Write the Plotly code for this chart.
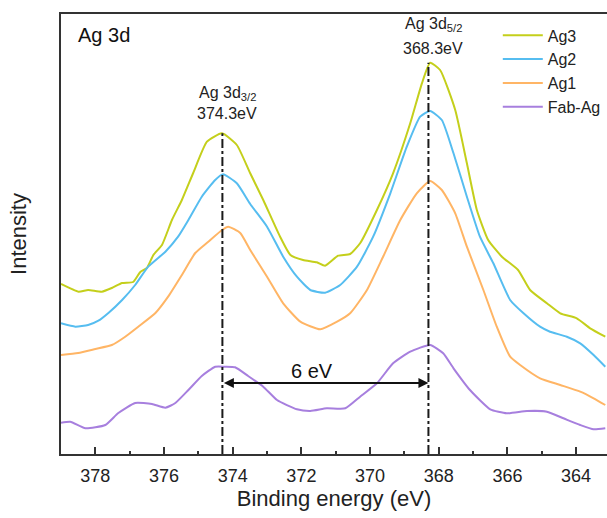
import plotly.graph_objects as go

# Ag 3d XPS spectra (binding energy in eV, intensity in arbitrary units, offset stacked)
ag3_energy = [379.0, 378.49, 378.21, 377.81, 377.52, 377.22, 376.9, 376.69, 376.5, 376.31,
              376.06, 375.77, 375.48, 375.15, 374.75, 374.31, 373.88, 373.49, 373.11, 372.62,
              372.32, 371.95, 371.55, 371.31, 370.93, 370.58, 370.29, 369.8, 369.33, 368.83,
              368.49, 368.25, 367.96, 367.52, 367.18, 366.89, 366.56, 366.16, 365.69, 365.34,
              364.85, 364.46, 363.98, 363.59, 363.15]
ag3_intensity = [170, 162.3, 164, 162.3, 166, 171, 172, 182, 186, 199,
                 209, 234, 254, 281, 312.3, 320.7, 309, 280.7, 254, 217.3,
                 199, 194, 191.7, 188.3, 198.3, 200, 210.7, 244, 280.7, 330.7,
                 370.7, 391.3, 384, 344, 290.7, 244, 214, 197.3, 184, 164,
                 150.7, 140.7, 135.7, 125.7, 117.3]

ag2_energy = [379.0, 378.58, 378.21, 377.91, 377.62, 377.22, 376.84, 376.46, 375.96, 375.59,
              375.29, 374.9, 374.51, 374.28, 373.88, 373.49, 373.0, 372.53, 372.13, 371.74,
              371.31, 370.87, 370.38, 369.91, 369.41, 368.93, 368.54, 368.25, 367.91, 367.57,
              367.18, 366.8, 366.41, 365.92, 365.53, 365.05, 364.76, 364.27, 363.88, 363.49,
              363.15]
ag2_intensity = [130.7, 127.3, 129, 133.3, 141, 154, 169, 187.3, 202.3, 217.3,
                 234, 257.3, 274, 279.7, 270.7, 250, 227.3, 197.3, 177.3, 164,
                 161.3, 169, 187.3, 217.3, 260.7, 307.3, 337.3, 343, 334, 300.7,
                 257.3, 217.3, 190.7, 154, 140.7, 127.3, 122.3, 117.3, 110.7, 99,
                 87.3]

ag1_energy = [379.0, 378.5, 378.0, 377.52, 377.13, 376.75, 376.25, 375.88, 375.48, 375.09,
              374.71, 374.31, 374.13, 373.78, 373.49, 373.0, 372.53, 372.03, 371.45, 370.96,
              370.58, 370.09, 369.62, 369.12, 368.64, 368.25, 367.91, 367.52, 367.18, 366.7,
              366.31, 365.92, 365.63, 365.05, 364.46, 363.88, 363.49, 363.15]
ag1_intensity = [99, 101, 105, 109, 117.3, 127.3, 141, 157.3, 179, 201,
                 212.3, 224, 227.3, 221, 204, 177.3, 150.7, 132.3, 124.7, 132.3,
                 140.7, 164, 197.3, 234, 260.7, 273, 264, 240.7, 207.3, 164,
                 127.3, 97.3, 89, 75.7, 69, 62.3, 55.7, 49]

fab_energy = [379.0, 378.73, 378.29, 377.71, 377.33, 376.84, 376.35, 375.96, 375.67, 375.29,
              374.9, 374.51, 374.22, 373.93, 373.55, 373.11, 372.71, 372.13, 371.74, 371.26,
              370.72, 370.29, 369.8, 369.33, 368.83, 368.25, 367.87, 367.57, 367.09, 366.5,
              366.02, 365.43, 364.85, 364.37, 363.88, 363.49, 363.15]
fab_intensity = [31.3, 32.3, 25.7, 29, 41, 51, 50, 46.3, 51, 64,
                 78, 87.3, 87.3, 86.7, 78, 67.3, 54, 44.7, 43, 45.7,
                 45.7, 57.3, 70.7, 90.7, 102.3, 109, 100.7, 85.7, 64, 44.7,
                 40.7, 43, 42.3, 35.7, 29, 24.7, 25.7]

series_names = ["Ag3", "Ag2", "Ag1", "Fab-Ag"]
series_colors = ["#c4cf1b", "#56bdf0", "#ffb565", "#a77fde"]

# Peak positions (eV) marked with dash-dot guides
peak_32 = 374.3
peak_52 = 368.3
x_ticks = [378, 376, 374, 372, 370, 368, 366, 364]

FONT = "Arial, Liberation Sans, sans-serif"
arrow_level = 71

fig = go.Figure()
for name, color, e, i in zip(series_names, series_colors,
                             [ag3_energy, ag2_energy, ag1_energy, fab_energy],
                             [ag3_intensity, ag2_intensity, ag1_intensity, fab_intensity]):
    fig.add_trace(go.Scatter(x=e, y=i, mode="lines", name=name,
                             line=dict(color=color, width=2, shape="spline", smoothing=0.5)))


def peak_height(pos):
    return max(v for e, v in zip(ag3_energy, ag3_intensity) if abs(e - pos) < 0.3)


for pos in (peak_32, peak_52):
    fig.add_shape(type="line", xref="x", yref="y", x0=pos, x1=pos, y0=0, y1=peak_height(pos),
                  line=dict(color="#1a1a1a", width=2, dash="dashdot"))

# Spin-orbit splitting arrow
fig.add_annotation(x=peak_52, y=arrow_level, ax=peak_32, ay=arrow_level,
                   xref="x", yref="y", axref="x", ayref="y", text="",
                   showarrow=True, arrowhead=2, arrowside="end+start", arrowsize=1,
                   arrowwidth=2, arrowcolor="#111111", standoff=0, startstandoff=0)
fig.add_annotation(x=371.7, y=arrow_level + 12, xref="x", yref="y", text="6 eV",
                   showarrow=False, font=dict(family=FONT, size=20, color="#111111"))

label_font = dict(family=FONT, size=16, color="#222222")
fig.add_annotation(x=peak_32, y=361, xref="x", yref="y", xshift=5,
                   text="Ag 3d<sub>3/2</sub>", showarrow=False, font=label_font)
fig.add_annotation(x=peak_32, y=341, xref="x", yref="y", xshift=5,
                   text=f"{peak_32}eV", showarrow=False, font=label_font)
fig.add_annotation(x=peak_52, y=430, xref="x", yref="y", xshift=5,
                   text="Ag 3d<sub>5/2</sub>", showarrow=False, font=label_font)
fig.add_annotation(x=peak_52, y=406, xref="x", yref="y", xshift=5,
                   text=f"{peak_52}eV", showarrow=False, font=label_font)
fig.add_annotation(x=0.027, y=0.953, xref="paper", yref="paper", xanchor="left",
                   yanchor="middle", text="Ag 3d", showarrow=False,
                   font=dict(family=FONT, size=20, color="#111111"))

fig.update_layout(
    width=607, height=518,
    margin=dict(l=61, r=0, t=14, b=64),
    paper_bgcolor="white", plot_bgcolor="white",
    font=dict(family=FONT, color="#222222"),
    showlegend=True,
    legend=dict(x=0.80, y=0.99, xanchor="left", yanchor="top",
                bgcolor="rgba(0,0,0,0)", font=dict(family=FONT, size=16, color="#222222"),
                itemwidth=40, tracegroupgap=0),
    xaxis=dict(range=[379.0, 363.1], tickvals=x_ticks, ticks="inside", ticklen=7, tickwidth=2,
               tickcolor="#333333", showline=True, linewidth=2, linecolor="#333333",
               mirror=True, showgrid=False, zeroline=False, ticklabelstandoff=4,
               tickfont=dict(family=FONT, size=18, color="#222222"),
               minor=dict(dtick=1, tick0=379, ticks="inside", ticklen=3, tickwidth=2,
                          tickcolor="#333333", showgrid=False),
               title=dict(text="Binding energy (eV)", standoff=6,
                          font=dict(family=FONT, size=22, color="#222222"))),
    yaxis=dict(range=[0, 440], showticklabels=False, ticks="", showline=True, linewidth=2,
               linecolor="#333333", showgrid=False, zeroline=False,
               title=dict(text="Intensity", standoff=26,
                          font=dict(family=FONT, size=22, color="#222222"))),
)

fig.write_html("out.html")
